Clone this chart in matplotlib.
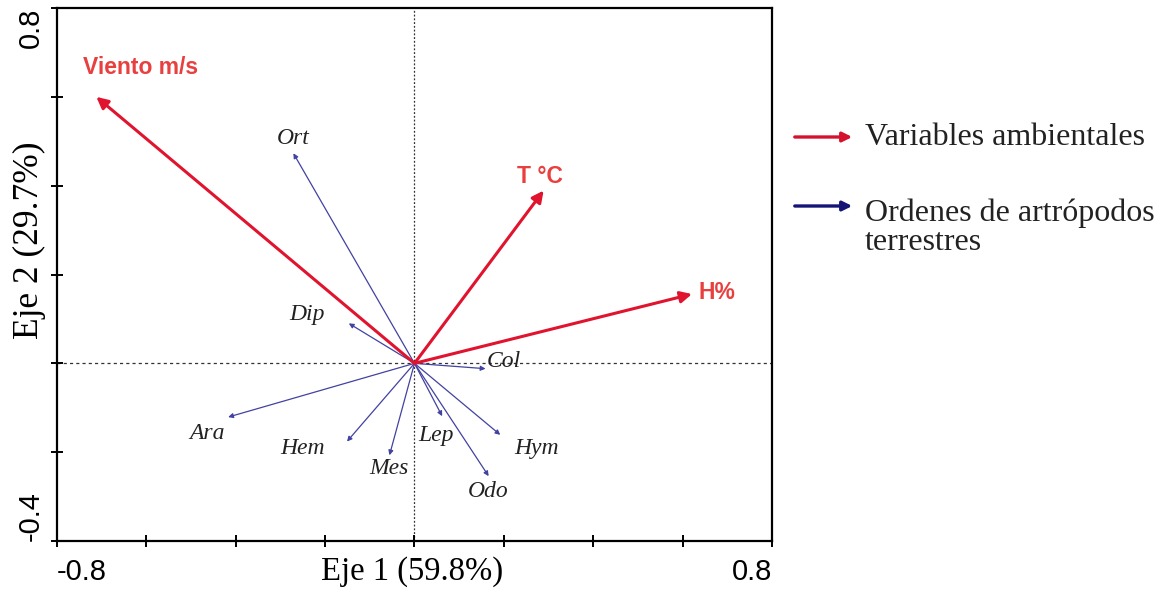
import matplotlib
matplotlib.use("Agg")
import matplotlib.pyplot as plt
from matplotlib.patches import FancyArrowPatch
from matplotlib.ticker import FixedLocator

# Environmental variables (biplot scores)
env_names = ["Viento m/s", "T °C", "H%"]
env_x = [-0.712, 0.289, 0.621]
env_y = [0.600, 0.389, 0.156]
env_label_x = [-0.613, 0.280, 0.676]
env_label_y = [0.667, 0.421, 0.159]

# Terrestrial arthropod orders
ord_names = ["Ort", "Dip", "Col", "Ara", "Hem", "Mes", "Lep", "Hym", "Odo"]
ord_x = [-0.271, -0.147, 0.159, -0.417, -0.151, -0.056, 0.062, 0.192, 0.166]
ord_y = [0.473, 0.090, -0.012, -0.121, -0.176, -0.207, -0.119, -0.161, -0.254]
ord_label_x = [-0.271, -0.240, 0.199, -0.465, -0.251, -0.058, 0.049, 0.274, 0.164]
ord_label_y = [0.506, 0.111, 0.004, -0.157, -0.192, -0.237, -0.163, -0.192, -0.289]

x_major = [-0.8, 0.8]
y_major = [-0.4, 0.8]
x_minor = [-0.6, -0.4, -0.2, 0.0, 0.2, 0.4, 0.6]
y_minor = [-0.2, 0.0, 0.2, 0.4, 0.6]

RED = "#e0142e"
RED_TXT = "#e8403f"
BLUE = "#4242a2"

sans = ["Liberation Sans", "DejaVu Sans"]
serif = ["Liberation Serif", "DejaVu Serif"]

fig = plt.figure(figsize=(11.75, 5.94), dpi=100)
ax = fig.add_axes([0.0485, 0.0892, 0.6085, 0.8973])
ax.set_xlim(-0.8, 0.8)
ax.set_ylim(-0.4, 0.8)

# Zero reference lines
ax.axhline(0, color="#333333", lw=0.9, ls=(0, (2.5, 2.5)), zorder=1)
ax.axvline(0, color="#333333", lw=0.9, ls=(0, (1.5, 1.5)), zorder=1)

# Order vectors
for name, x, y, lx, ly in zip(ord_names, ord_x, ord_y, ord_label_x, ord_label_y):
    ax.annotate("", xy=(x, y), xytext=(0, 0),
                arrowprops=dict(arrowstyle="-|>", color=BLUE, lw=0.9,
                                mutation_scale=7, shrinkA=0, shrinkB=0),
                zorder=2)
    ax.text(lx, ly, name, family=serif, style="italic", fontsize=17,
            color="#222222", ha="center", va="center", zorder=4)

# Environmental vectors
for name, x, y, lx, ly in zip(env_names, env_x, env_y, env_label_x, env_label_y):
    ax.annotate("", xy=(x, y), xytext=(0, 0),
                arrowprops=dict(arrowstyle="-|>", color=RED, lw=2.2,
                                mutation_scale=17, shrinkA=0, shrinkB=0),
                zorder=3)
    ax.text(lx, ly, name, family=sans, fontweight="bold", fontsize=16.5,
            color=RED_TXT, ha="center", va="center", zorder=4)

# Axes frame and ticks
for sp in ax.spines.values():
    sp.set_linewidth(1.6)
ax.xaxis.set_major_locator(FixedLocator(x_major))
ax.yaxis.set_major_locator(FixedLocator(y_major))
ax.xaxis.set_minor_locator(FixedLocator(x_minor))
ax.yaxis.set_minor_locator(FixedLocator(y_minor))
ax.set_xticklabels([f"{v:.1f}" for v in x_major])
ax.set_yticklabels([f"{v:.1f}" for v in y_major])
ax.tick_params(which="both", direction="inout", length=8, width=1.4)
ax.tick_params(axis="x", which="major", pad=8, labelsize=21)
ax.tick_params(axis="y", which="major", pad=4.5, labelsize=21, labelrotation=90)
for t in ax.get_xticklabels():
    t.set_family(sans)
for t in ax.get_yticklabels():
    t.set_family(sans)
xl = ax.get_xticklabels()
xl[0].set_ha("left")
xl[-1].set_ha("right")
yl = ax.get_yticklabels()
yl[0].set_va("bottom")
yl[-1].set_va("top")

ax.set_xlabel("Eje 1 (59.8%)", family=serif, fontsize=23.5)
ax.set_ylabel("Eje 2 (29.7%)", family=serif, fontsize=25.5)
ax.xaxis.set_label_coords(0.496, -0.028, transform=ax.transAxes)
ax.yaxis.set_label_coords(-0.016, 0.565, transform=ax.transAxes)

# Legend drawn beside the plot
legend_items = [("Variables ambientales", "#d4122e", 1 - 137 / 594, 1 - 138 / 594),
                ("Ordenes de artrópodos\nterrestres", "#151575", 1 - 206 / 594, 1 - 199 / 594)]
for text, col, ya, yt in legend_items:
    fig.patches.append(FancyArrowPatch(
        (792 / 1175, ya), (855 / 1175, ya), transform=fig.transFigure,
        arrowstyle="-|>", mutation_scale=14, lw=2.4, color=col))
    fig.text(865 / 1175, yt, text, family=serif, fontsize=23,
             color="#222222", ha="left",
             va="top" if "\n" in text else "center", linespacing=1.0)

fig.savefig("out.png", dpi=100)
